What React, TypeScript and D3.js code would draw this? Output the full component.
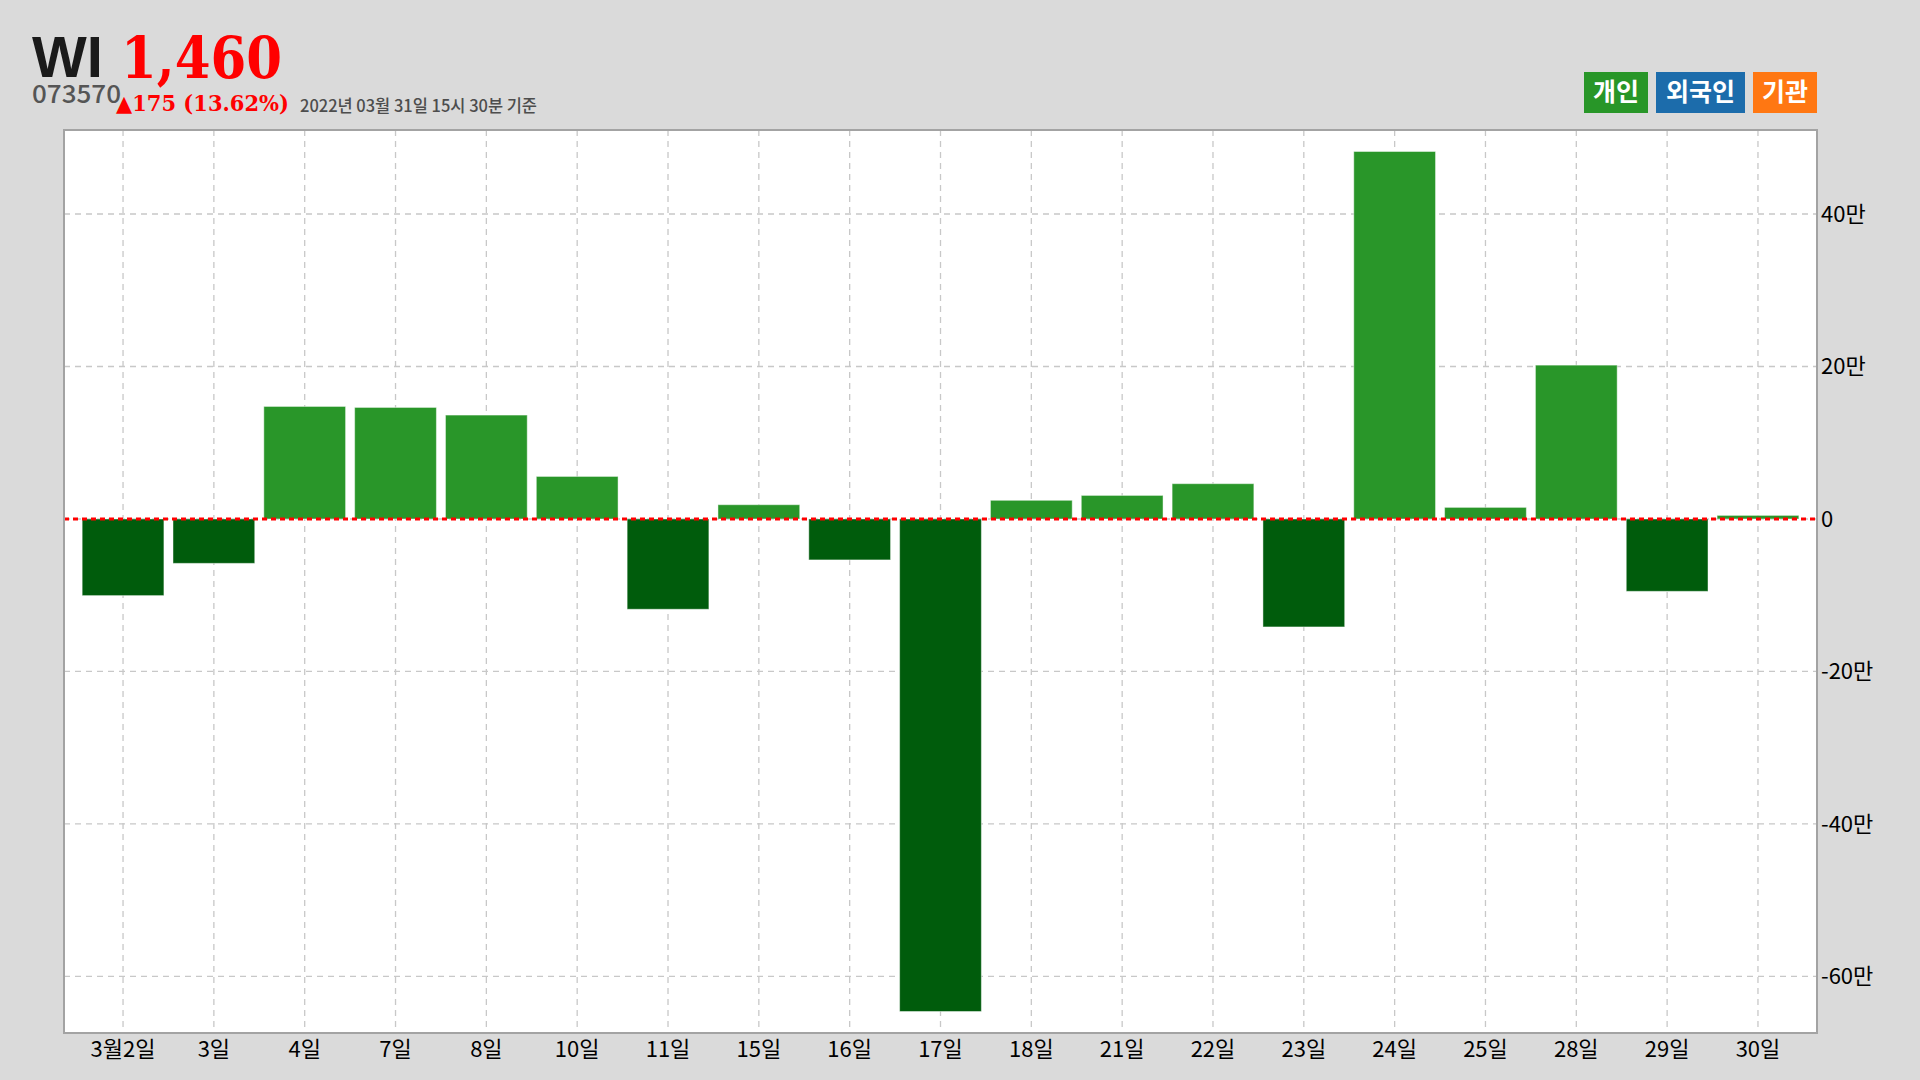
import * as d3 from "d3";
import React from "react";

// 개인 순매수 (주)
const days = ["3월2일", "3일", "4일", "7일", "8일", "10일", "11일", "15일", "16일", "17일", "18일", "21일", "22일", "23일", "24일", "25일", "28일", "29일", "30일"];
const personal = [-100500, -58200, 147600, 146300, 136300, 55800, -118400, 18700, -53700, -646000, 24500, 30900, 46300, -141600, 482000, 15200, 201800, -94900, 4700];
const yTicks = [-600000, -400000, -200000, 0, 200000, 400000];
const legendItems = [
  { label: "개인", color: "#289628", w: 64 },
  { label: "외국인", color: "#1c6cab", w: 89 },
  { label: "기관", color: "#ff7712", w: 64 },
];

const W = 1920;
const H = 1080;
const plot = { left: 64, right: 1817, top: 130, bottom: 1033 };
const KR = "'Noto Sans CJK KR', 'Noto Sans', sans-serif";
const SERIF = "'DejaVu Serif', 'Liberation Serif', serif";

export default function App() {
  const x = d3
    .scaleBand<string>()
    .domain(days)
    .range([plot.left, plot.right])
    .paddingInner(0.1)
    .paddingOuter(0.2);

  const lo = d3.min(personal) || 0;
  const hi = d3.max(personal) || 0;
  const pad = (hi - lo) * 0.025;
  const y = d3.scaleLinear().domain([lo - pad, hi + pad]).range([plot.bottom, plot.top]);

  const fmt = (v: number) => (v === 0 ? "0" : `${v / 10000}만`);
  const y0 = y(0);

  let lx = 1584;
  const legend = legendItems.map((d) => {
    const item = { ...d, x: lx };
    lx += d.w + 8;
    return item;
  });

  return (
    <svg width={W} height={H} style={{ position: "absolute", left: 0, top: 0, display: "block" }}>
      <rect width={W} height={H} fill="#dadada" />

      {/* header */}
      <text x={32} y={77} fontFamily="'Liberation Sans', Arial, sans-serif" fontWeight="bold" fontSize={58} fill="#1a1a1a">
        WI
      </text>
      <text x={121} y={78} fontFamily={SERIF} fontWeight="bold" fontSize={57} fill="#ff0000" textLength={161} lengthAdjust="spacingAndGlyphs">
        1,460
      </text>
      <text x={32} y={103} fontFamily={KR} fontWeight={500} fontSize={25} fill="#555555" textLength={89} lengthAdjust="spacingAndGlyphs">
        073570
      </text>
      <text x={116} y={111} fontFamily={SERIF} fontWeight="bold" fontSize={22} fill="#ff0000" textLength={173} lengthAdjust="spacingAndGlyphs">
        ▲175 (13.62%)
      </text>
      <text x={300} y={112} fontFamily={KR} fontWeight={500} fontSize={17} fill="#4d4d4d" textLength={237} lengthAdjust="spacingAndGlyphs">
        2022년 03월 31일 15시 30분 기준
      </text>

      {/* legend */}
      {legend.map((d) => (
        <g key={d.label}>
          <rect x={d.x} y={72} width={d.w} height={41} fill={d.color} />
          <text x={d.x + d.w / 2} y={101} textAnchor="middle" fontFamily={KR} fontWeight="bold" fontSize={25} fill="#ffffff">
            {d.label}
          </text>
        </g>
      ))}

      {/* plot area */}
      <rect x={plot.left} y={plot.top} width={plot.right - plot.left} height={plot.bottom - plot.top} fill="#ffffff" />

      {yTicks.map((t) => (
        <line key={`gy${t}`} x1={plot.left} x2={plot.right} y1={y(t)} y2={y(t)} stroke="#c8c8c8" strokeWidth={1.3} strokeDasharray="6,5" />
      ))}
      {days.map((d) => {
        const cx = (x(d) || 0) + x.bandwidth() / 2;
        return <line key={`gx${d}`} x1={cx} x2={cx} y1={plot.top} y2={plot.bottom} stroke="#c8c8c8" strokeWidth={1.3} strokeDasharray="6,5" />;
      })}

      {days.map((d, i) => {
        const v = personal[i];
        const top = Math.min(y(v), y0);
        const h = Math.abs(y(v) - y0);
        return (
          <rect
            key={`bar${d}`}
            x={x(d)}
            y={top}
            width={x.bandwidth()}
            height={h}
            fill={v >= 0 ? "#299629" : "#005c0c"}
            stroke="#ffffff"
            strokeOpacity={0.45}
            strokeWidth={1}
          />
        );
      })}

      <line x1={plot.left} x2={plot.right} y1={y0} y2={y0} stroke="#ff0000" strokeWidth={3} strokeDasharray="5,4" />

      <rect x={plot.left} y={plot.top} width={plot.right - plot.left} height={plot.bottom - plot.top} fill="none" stroke="#a3a3a3" strokeWidth={2} />

      {/* axes labels */}
      {yTicks.map((t) => (
        <text key={`yl${t}`} x={plot.right + 4} y={y(t)} dy="0.36em" fontFamily={KR} fontSize={22} fill="#000000">
          {fmt(t)}
        </text>
      ))}
      {days.map((d) => (
        <text key={`xl${d}`} x={(x(d) || 0) + x.bandwidth() / 2} y={1057} textAnchor="middle" fontFamily={KR} fontSize={22} fill="#000000">
          {d}
        </text>
      ))}
    </svg>
  );
}
